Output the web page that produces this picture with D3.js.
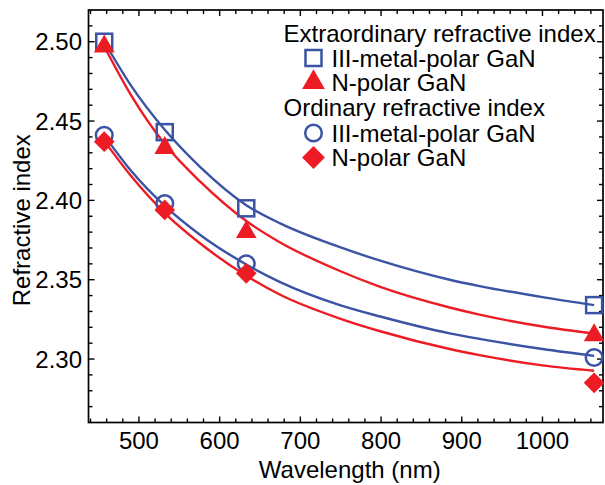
<!DOCTYPE html>
<html>
<head>
<meta charset="utf-8">
<script src="https://cdn.jsdelivr.net/npm/d3@7"></script>
<style>
  html, body { margin: 0; padding: 0; background: #fff; }
  svg { display: block; }
  text { font-family: "Liberation Sans", Arial, Helvetica, sans-serif; fill: #000; }
</style>
</head>
<body>
<svg id="chart" width="605" height="485"></svg>
<script>
// ---- data ----
const wavelengths = [457, 532, 633, 1064];
const extIII = [2.500, 2.443, 2.395, 2.334];
const extN   = [2.497, 2.433, 2.380, 2.315];
const ordIII = [2.441, 2.398, 2.360, 2.301];
const ordN   = [2.437, 2.394, 2.354, 2.285];

// fitted curves
const fitWavelengths = [457, 490, 532, 576, 633, 675, 749, 799, 885, 922, 1000, 1064];
const fitExtIII = [2.500, 2.4725, 2.4445, 2.4210, 2.3970, 2.3855, 2.3705, 2.3620, 2.3500, 2.3460, 2.3390, 2.3340];
const fitExtN   = [2.497, 2.4665, 2.4355, 2.4118, 2.3870, 2.3735, 2.3555, 2.3455, 2.3325, 2.3280, 2.3205, 2.3160];
const fitOrdIII = [2.441, 2.4188, 2.3965, 2.3782, 2.3596, 2.3485, 2.3340, 2.3268, 2.3162, 2.3127, 2.3063, 2.3020];
const fitOrdN   = [2.4375, 2.4155, 2.3920, 2.3728, 2.3525, 2.3405, 2.3255, 2.3175, 2.3063, 2.3025, 2.2960, 2.2926];

const xMajorTicks = [500, 600, 700, 800, 900, 1000];
const yMajorTicks = [2.30, 2.35, 2.40, 2.45, 2.50];
const xTitle = "Wavelength (nm)";
const yTitle = "Refractive index";
const legendItems = [
  { type: "header", label: "Extraordinary refractive index" },
  { type: "square", label: "III-metal-polar GaN" },
  { type: "triangle", label: "N-polar GaN" },
  { type: "header", label: "Ordinary refractive index" },
  { type: "circle", label: "III-metal-polar GaN" },
  { type: "diamond", label: "N-polar GaN" }
];

// ---- layout ----
const BLUE = "#3a53a4", RED = "#ed1c24";
const svg = d3.select("#chart");
const m = { left: 88.5, right: 603, top: 10, bottom: 422.5 };
const x = d3.scaleLinear().domain([437.5, 1075]).range([m.left, m.right]);
const y = d3.scaleLinear().domain([2.26, 2.52]).range([m.bottom, m.top]);

const xMinor = d3.range(440, 1075, 20).filter(v => v % 100 !== 0);
const yMinor = d3.range(2.27, 2.52, 0.01).map(v => +v.toFixed(2)).filter(v => Math.round(v * 100) % 5 !== 0);

const TM = 6, Tm = 4;
const axG = svg.append("g").attr("stroke", "#000").attr("stroke-width", 1.4);
xMajorTicks.forEach(v => {
  axG.append("line").attr("x1", x(v)).attr("x2", x(v)).attr("y1", m.bottom).attr("y2", m.bottom - TM);
  axG.append("line").attr("x1", x(v)).attr("x2", x(v)).attr("y1", m.top).attr("y2", m.top + TM);
});
xMinor.forEach(v => {
  axG.append("line").attr("x1", x(v)).attr("x2", x(v)).attr("y1", m.bottom).attr("y2", m.bottom - Tm);
  axG.append("line").attr("x1", x(v)).attr("x2", x(v)).attr("y1", m.top).attr("y2", m.top + Tm);
});
yMajorTicks.forEach(v => {
  axG.append("line").attr("y1", y(v)).attr("y2", y(v)).attr("x1", m.left).attr("x2", m.left + TM);
  axG.append("line").attr("y1", y(v)).attr("y2", y(v)).attr("x1", m.right).attr("x2", m.right - TM);
});
yMinor.forEach(v => {
  axG.append("line").attr("y1", y(v)).attr("y2", y(v)).attr("x1", m.left).attr("x2", m.left + Tm);
  axG.append("line").attr("y1", y(v)).attr("y2", y(v)).attr("x1", m.right).attr("x2", m.right - Tm);
});
svg.append("rect").attr("x", m.left).attr("y", m.top)
  .attr("width", m.right - m.left).attr("height", m.bottom - m.top)
  .attr("fill", "none").attr("stroke", "#000").attr("stroke-width", 1.7);

// tick labels
svg.append("g").selectAll("text").data(xMajorTicks).join("text")
  .attr("x", d => x(d)).attr("y", 448.5).attr("text-anchor", "middle")
  .attr("font-size", 24).text(d => d);
svg.append("g").selectAll("text").data(yMajorTicks).join("text")
  .attr("x", 82).attr("y", d => y(d) + 8.5).attr("text-anchor", "end")
  .attr("font-size", 24).text(d => d.toFixed(2));

// titles
svg.append("text").attr("x", (m.left + m.right) / 2 + 4).attr("y", 478)
  .attr("text-anchor", "middle").attr("font-size", 24).text(xTitle);
svg.append("text").attr("transform", `translate(30,${(m.top + m.bottom) / 2 + 4}) rotate(-90)`)
  .attr("text-anchor", "middle").attr("font-size", 24).text(yTitle);

// curves
const line = d3.line().x(d => x(d[0])).y(d => y(d[1])).curve(d3.curveMonotoneX);
const curves = [
  { vals: fitExtIII, color: BLUE },
  { vals: fitExtN, color: RED },
  { vals: fitOrdIII, color: BLUE },
  { vals: fitOrdN, color: RED }
];
const plot = svg.append("g");
curves.forEach(c => {
  plot.append("path").attr("d", line(fitWavelengths.map((w, i) => [w, c.vals[i]])))
    .attr("fill", "none").attr("stroke", c.color).attr("stroke-width", 2.4);
});

// markers
function marker(g, type, cx, cy, scale) {
  const s = scale || 1;
  if (type === "square") {
    g.append("rect").attr("x", cx - 8 * s).attr("y", cy - 8 * s)
      .attr("width", 16 * s).attr("height", 16 * s)
      .attr("fill", "none").attr("stroke", BLUE).attr("stroke-width", 2.5);
  } else if (type === "circle") {
    g.append("circle").attr("cx", cx).attr("cy", cy).attr("r", 8.3 * s)
      .attr("fill", "none").attr("stroke", BLUE).attr("stroke-width", 2.5);
  } else if (type === "triangle") {
    g.append("path").attr("transform", `translate(${cx},${cy})`)
      .attr("d", d3.symbol(d3.symbolTriangle, 185 * s * s)()).attr("fill", RED);
  } else if (type === "diamond") {
    g.append("path").attr("transform", `translate(${cx},${cy}) rotate(45)`)
      .attr("d", d3.symbol(d3.symbolSquare, 215 * s * s)()).attr("fill", RED);
  }
}
const series = [
  { vals: extIII, type: "square" },
  { vals: extN, type: "triangle" },
  { vals: ordIII, type: "circle" },
  { vals: ordN, type: "diamond" }
];
series.forEach(sr => {
  wavelengths.forEach((w, i) => marker(plot, sr.type, x(w), y(sr.vals[i])));
});

// legend
const lg = svg.append("g");
const rowBase = [41.5, 66.5, 91, 116, 141.5, 166];
legendItems.forEach((it, i) => {
  if (it.type === "header") {
    lg.append("text").attr("x", 283.5).attr("y", rowBase[i]).attr("font-size", 24).text(it.label);
  } else {
    marker(lg, it.type, 313.5, rowBase[i] - 8.5, it.type === "diamond" || it.type === "triangle" ? 1.1 : 1);
    lg.append("text").attr("x", 331.5).attr("y", rowBase[i]).attr("font-size", 24).text(it.label);
  }
});
</script>
</body>
</html>
